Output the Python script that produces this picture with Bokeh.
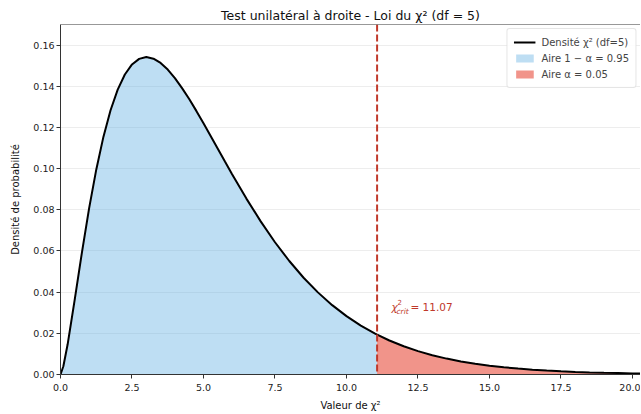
import numpy as np
from bokeh.plotting import figure
from bokeh.models import Span, Range1d, PrintfTickFormatter, FixedTicker, Legend, LegendItem
from bokeh.core.properties import value
from bokeh.embed import file_html
from bokeh.resources import INLINE

# density of chi2(df=5)
x_vals = [0.0, 0.1, 0.25, 0.5, 0.75, 1.0, 1.25, 1.5, 1.75, 2.0, 2.25, 2.5, 2.75, 3.0, 3.25,
          3.5, 3.75, 4.0, 4.25, 4.5, 4.75, 5.0, 5.25, 5.5, 5.75, 6.0, 6.5, 7.0, 7.5, 8.0,
          8.5, 9.0, 9.5, 10.0, 10.5, 11.0, 11.07, 11.5, 12.0, 12.5, 13.0, 13.5, 14.0, 14.5,
          15.0, 15.5, 16.0, 16.5, 17.0, 17.5, 18.0, 18.5, 19.0, 19.5, 20.0, 20.5]
dens = [0.0, 0.0040, 0.01467, 0.03662, 0.05936, 0.08066, 0.09948, 0.11541, 0.12834, 0.13838,
        0.14573, 0.15060, 0.15331, 0.15418, 0.15341, 0.15131, 0.14813, 0.14398, 0.13911,
        0.13380, 0.12804, 0.12204, 0.11588, 0.10966, 0.10343, 0.09730, 0.08544, 0.07437,
        0.06424, 0.05512, 0.04700, 0.03989, 0.03369, 0.02834, 0.02375, 0.01983, 0.01933,
        0.01651, 0.01370, 0.01134, 0.00937, 0.00772, 0.00635, 0.00521, 0.00427, 0.00350,
        0.00286, 0.00233, 0.00190, 0.00154, 0.00125, 0.00102, 0.00082, 0.00067, 0.00054,
        0.00044]
crit = 11.07
df = 5
alpha = 0.05
x_ticks = [0.0, 2.5, 5.0, 7.5, 10.0, 12.5, 15.0, 17.5, 20.0]
y_ticks = [0.0, 0.02, 0.04, 0.06, 0.08, 0.10, 0.12, 0.14, 0.16]

xa = np.array(x_vals)
ya = np.array(dens)
left = xa <= crit
right = xa >= crit

FONT = "DejaVu Sans"
p = figure(width=640, height=413, output_backend="svg", toolbar_location=None,
           x_range=Range1d(0, 20.28), y_range=Range1d(0, 0.17),
           min_border_left=60, min_border_right=0, min_border_top=24, min_border_bottom=39)
p.title.text = "Test unilatéral à droite - Loi du χ² (df = 5)"
p.title.align = "center"
p.title.text_font = FONT
p.title.text_font_size = "12.5px"
p.title.text_font_style = "normal"
p.title.text_color = "#111111"
p.title.standoff = 4

p.outline_line_color = None
p.background_fill_color = "white"

blue = p.varea(x=xa[left], y1=0, y2=ya[left], fill_color="#5dade2", fill_alpha=0.4)
red = p.varea(x=xa[right], y1=0, y2=ya[right], fill_color="#e74c3c", fill_alpha=0.6)
line = p.line(xa, ya, line_color="black", line_width=2)

p.add_layout(Span(location=crit, dimension="height", line_color="#c0392b",
                  line_width=2, line_dash="7 3"))
p.add_layout(Span(location=0.17, dimension="width", line_color="#333333", line_width=1))

# annotation chi2_crit = 11.07
tc = "#c0392b"
ax, ay = 11.573, 0.033
p.text(x=[ax], y=[ay], text=["χ"], text_font=value(FONT), text_font_size="10.5px",
       text_font_style="italic", text_color=tc, text_baseline="middle", text_align="left")
p.text(x=[ax], y=[ay], text=["2"], text_font=value(FONT), text_font_size="7px",
       text_color=tc, text_baseline="middle", text_align="left", x_offset=6, y_offset=-5)
p.text(x=[ax], y=[ay], text=["crit"], text_font=value(FONT), text_font_size="7.5px",
       text_font_style="italic", text_color=tc, text_baseline="middle", text_align="left",
       x_offset=5, y_offset=5)
p.text(x=[ax], y=[ay], text=["= 11.07"], text_font=value(FONT), text_font_size="10.5px",
       text_color=tc, text_baseline="middle", text_align="left", x_offset=19)

p.xaxis.ticker = FixedTicker(ticks=x_ticks)
p.yaxis.ticker = FixedTicker(ticks=y_ticks)
p.xaxis.formatter = PrintfTickFormatter(format="%.1f")
p.yaxis.formatter = PrintfTickFormatter(format="%.2f")
for ax_ in (p.xaxis, p.yaxis):
    ax_.major_label_text_font = FONT
    ax_.major_label_text_font_size = "9.5px"
    ax_.major_label_text_color = "#222222"
    ax_.axis_label_text_font = FONT
    ax_.axis_label_text_font_size = "10px"
    ax_.axis_label_text_font_style = "normal"
    ax_.axis_label_text_color = "#111111"
    ax_.axis_line_color = "#333333"
    ax_.major_tick_line_color = "#333333"
    ax_.major_tick_out = 4
    ax_.major_tick_in = 0
    ax_.minor_tick_line_color = None
p.yaxis.major_label_standoff = 2
p.xaxis.axis_label = "Valeur de χ²"
p.yaxis.axis_label = "Densité de probabilité"
p.xaxis.axis_label_standoff = 6
p.yaxis.axis_label_standoff = 9
p.xgrid.grid_line_color = None
p.ygrid.grid_line_color = "#e6e6e6"
p.ygrid.grid_line_alpha = 0.7

legend = Legend(items=[
    LegendItem(label="Densité χ² (df=5)", renderers=[line]),
    LegendItem(label="Aire 1 − α = 0.95", renderers=[blue]),
    LegendItem(label="Aire α = 0.05", renderers=[red]),
], location="top_right")
legend.label_text_font = FONT
legend.label_text_font_size = "10px"
legend.glyph_width = 22
legend.glyph_height = 10
legend.label_height = 14
legend.spacing = 2
legend.padding = 6
legend.margin = 4
legend.label_standoff = 6
legend.border_line_color = "#cccccc"
legend.border_radius = 3
legend.background_fill_alpha = 0.85
p.add_layout(legend)

open("out.html", "w").write(file_html(p, INLINE))
